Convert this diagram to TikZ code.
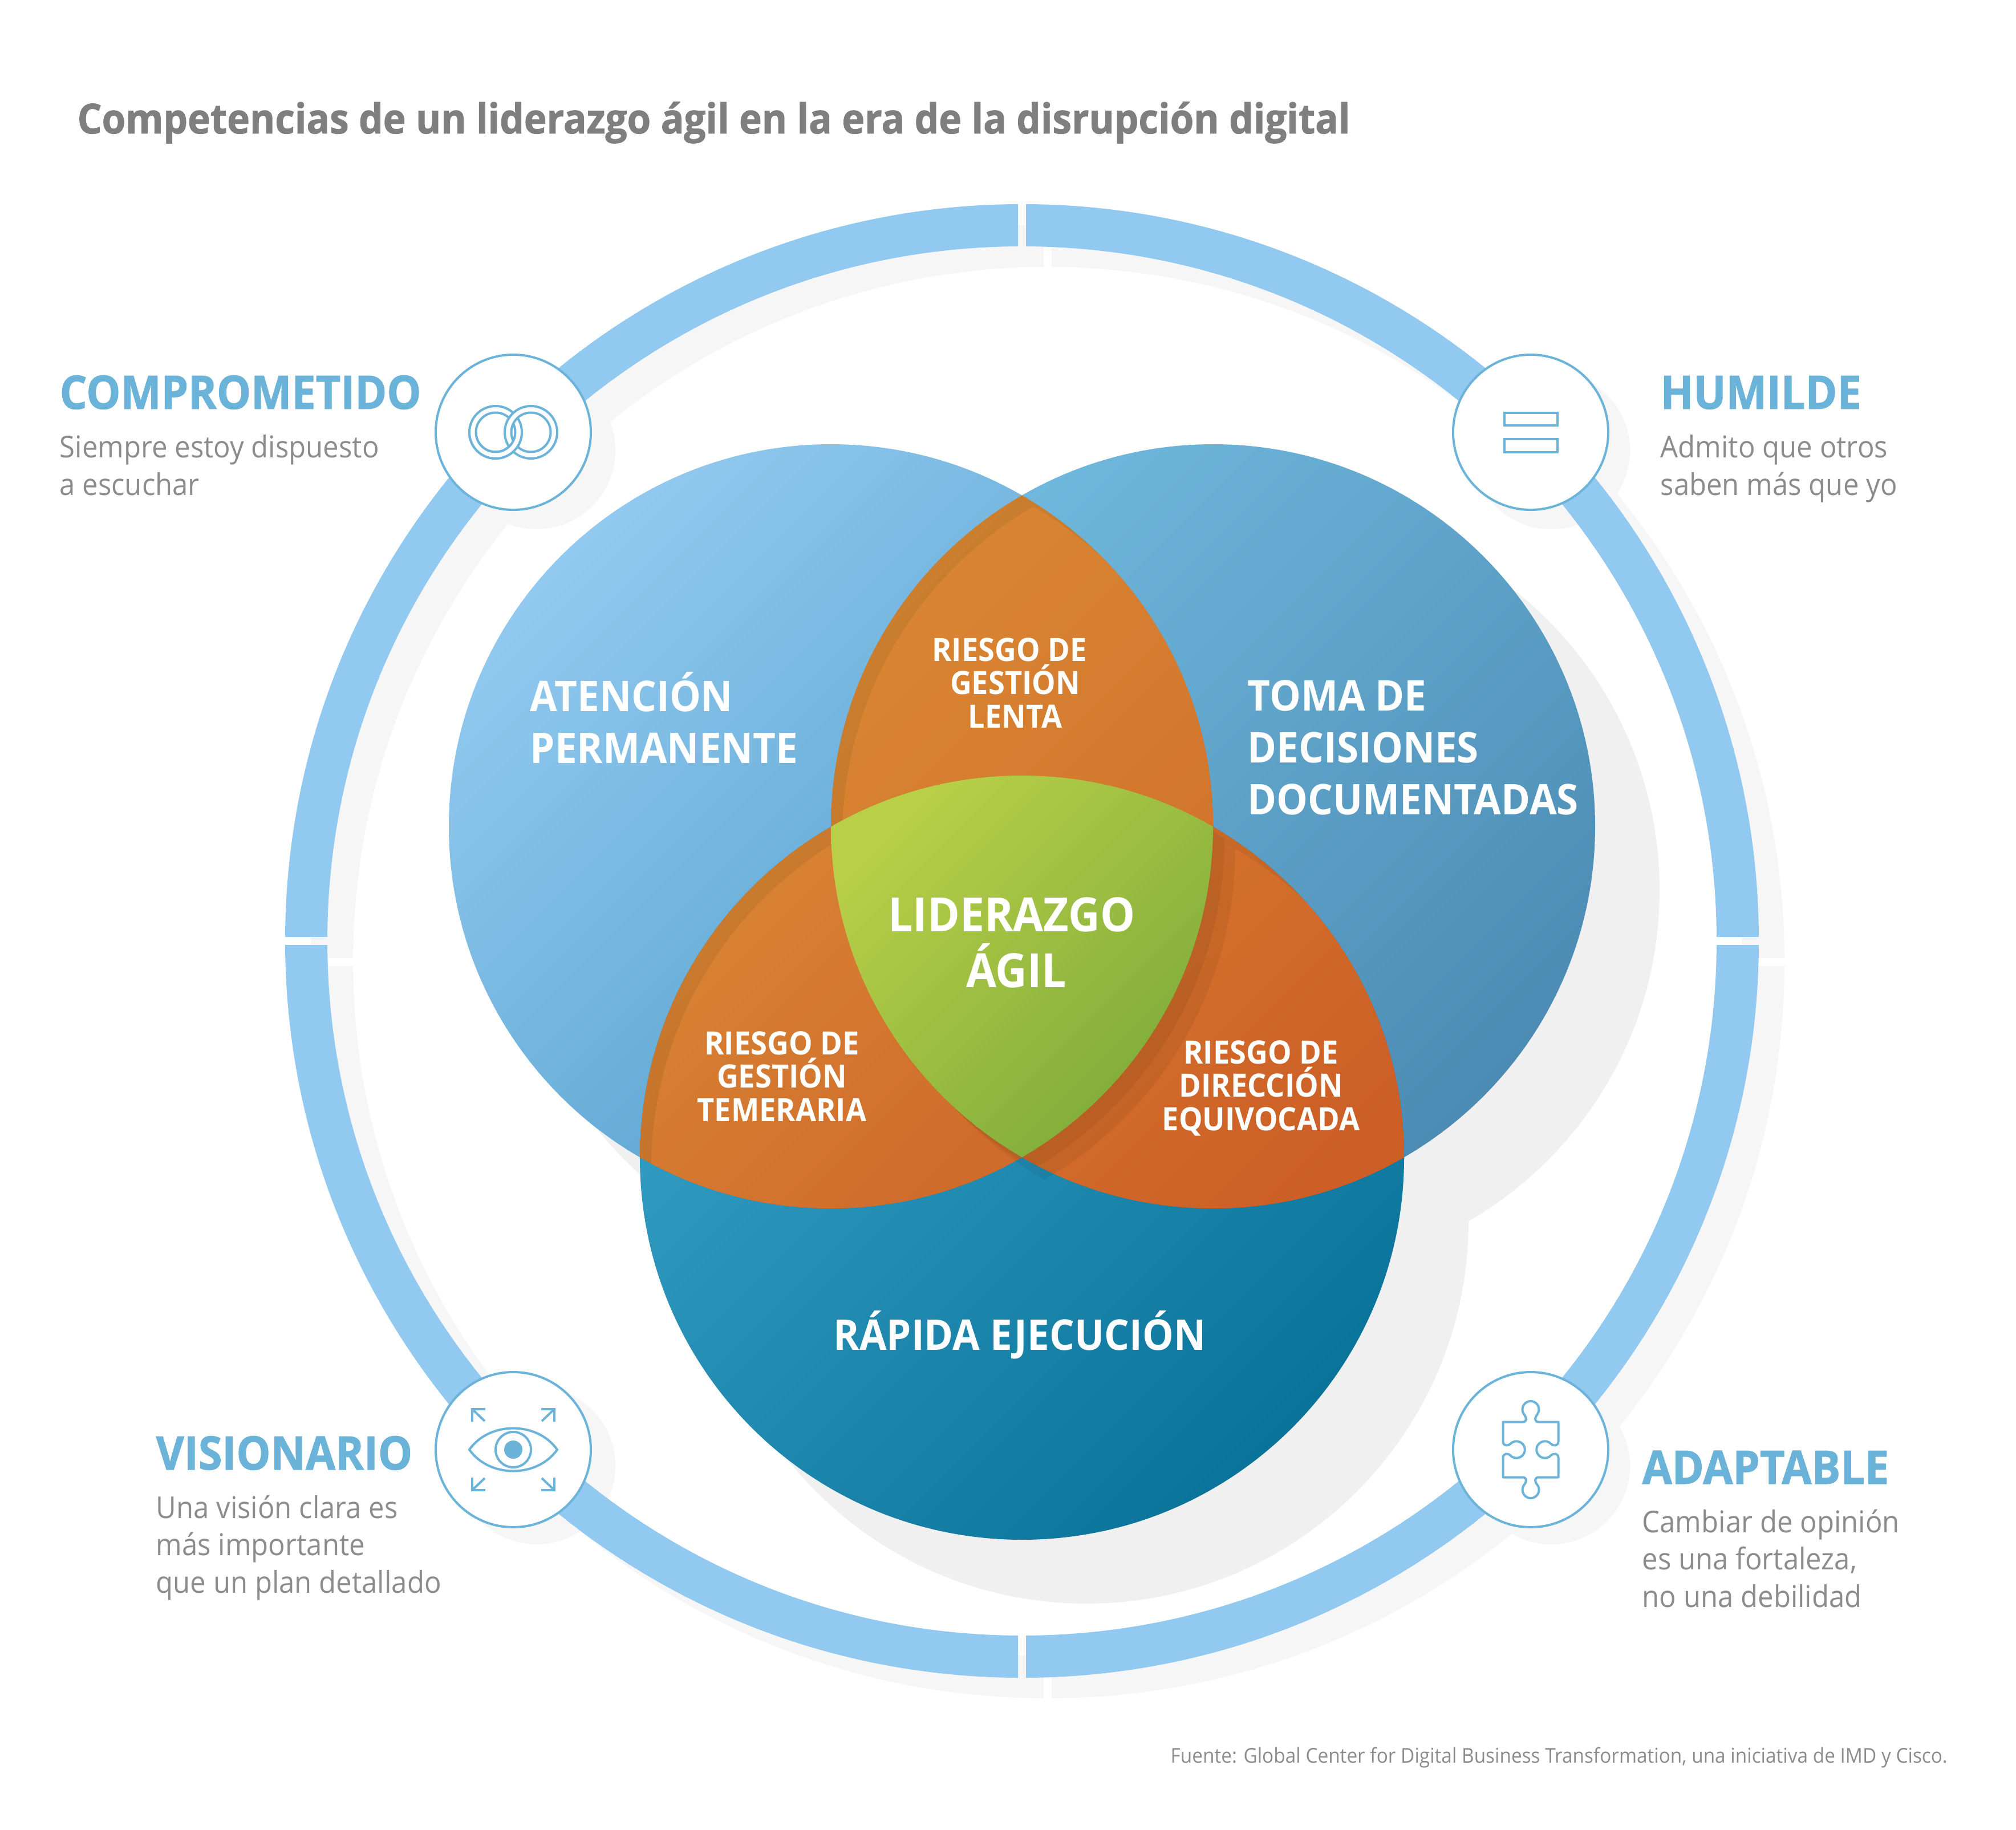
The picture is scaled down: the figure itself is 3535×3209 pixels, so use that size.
\documentclass[tikz,border=0pt]{standalone}
\usepackage{fontspec}
\setmainfont{Open Sans}[FakeStretch=0.93]
\newfontfamily\heavyfont{Open Sans}[FakeStretch=0.93,BoldFeatures={FakeBold=1.2}]
\definecolor{ringblue}{HTML}{92C9F0}
\definecolor{iconblue}{HTML}{6BB3D9}
\definecolor{softgray}{HTML}{F6F6F6}
\definecolor{dropgray}{HTML}{F0F0F0}
\definecolor{titlegray}{HTML}{7F7F7F}
\definecolor{bodygray}{HTML}{8C8C8C}
\definecolor{atop}{HTML}{92C9F0}\definecolor{abot}{HTML}{4A9AC6}
\definecolor{btop}{HTML}{70B8DD}\definecolor{bbot}{HTML}{4C8BB3}
\definecolor{ctop}{HTML}{36A0C6}\definecolor{cbot}{HTML}{0A7399}
\definecolor{abtop}{HTML}{D98633}\definecolor{abbot}{HTML}{CF702B}
\definecolor{abrimtop}{HTML}{CA7F2E}\definecolor{abrimbot}{HTML}{BF6827}
\definecolor{actop}{HTML}{D98533}\definecolor{acbot}{HTML}{CF6C2C}
\definecolor{acrimtop}{HTML}{CA7D2E}\definecolor{acrimbot}{HTML}{BF6528}
\definecolor{bctop}{HTML}{D5752D}\definecolor{bcbot}{HTML}{CC5E26}
\definecolor{bcrimtop}{HTML}{C86E2A}\definecolor{bcrimbot}{HTML}{BF5722}
\definecolor{coretop}{HTML}{B9CF48}\definecolor{corebot}{HTML}{7DAB3A}
\tikzset{
  ringstroke/.style={line width=0.74cm},
  iconline/.style={draw=iconblue,line width=0.04cm,miter limit=10},
  iconbadge/.style={iconline,fill=white},
  headlabel/.style={anchor=base west,inner sep=0pt,text=iconblue,font=\fontsize{23.1}{28}\selectfont\heavyfont\bfseries},
  bodylabel/.style={anchor=base west,inner sep=0pt,text=bodygray,align=left,font=\fontsize{15}{18.6}\selectfont},
  vennlabel/.style={anchor=base west,inner sep=0pt,text=white,align=left,font=\fontsize{21.1}{25.8}\selectfont\bfseries},
  risklabel/.style={anchor=base,inner sep=0pt,text=white,align=center,font=\fontsize{16}{16.6}\selectfont\bfseries},
  vennshade/.style={top color=#1top,bottom color=#1bot,shading angle=45},
}
\begin{document}
\begin{tikzpicture}[x=0.01cm,y=-0.01cm]
    \useasboundingbox (0,0) rectangle (3535,3209);
    \fill[white] (0,0) rectangle (3535,3209);
    \coordinate (hub) at (1792,1650);
    \coordinate (hubdrop) at (1837,1686);
    \foreach \n/\px/\py in {a/1457/1449,b/2127/1449,c/1792/2030}{
        \coordinate (c\n) at (\px,\py);
        \coordinate (c\n one) at (\px+20,\py+20);
        \coordinate (c\n two) at (\px+39,\py+39);
        \coordinate (c\n drop) at (\px+113,\py+112);
    }
    \coordinate (rings) at (900,758);
    \coordinate (bars) at (2684,758);
    \coordinate (eye) at (900,2542);
    \coordinate (puzzle) at (2684,2542);

    % ring shadow and ring
    \foreach \xa/\xb/\ya/\yb in {0/1830/0/1679,1844/3535/0/1679,0/1830/1694/3209,1844/3535/1694/3209}{
        \begin{scope}
            \clip (\xa,\ya) rectangle (\xb,\yb);
            \draw[softgray,ringstroke] (hubdrop) circle (1255);
        \end{scope}
    }
    \fill[softgray] ([shift={(41,32)}]rings) circle (138);
    \fill[softgray] ([shift={(36,32)}]bars) circle (138);
    \fill[softgray] ([shift={(41,28)}]eye) circle (138);
    \fill[softgray] ([shift={(36,28)}]puzzle) circle (138);
    \foreach \xa/\xb/\ya/\yb in {0/1785/0/1642,1799/3535/0/1642,0/1785/1657/3209,1799/3535/1657/3209}{
        \begin{scope}
            \clip (\xa,\ya) rectangle (\xb,\yb);
            \draw[ringblue,ringstroke] (hub) circle (1255);
        \end{scope}
    }

    % venn circles
    \foreach \n in {a,b,c} \fill[dropgray] (c\n drop) circle (670);
    \shade[vennshade=a] (ca) circle (670);
    \shade[vennshade=b] (cb) circle (670);
    \shade[vennshade=c] (cc) circle (670);
    \begin{scope}
        \clip (ca) circle (670);
        \clip (cb) circle (670);
        \shade[vennshade=abrim] (1457,869) rectangle (2127,2030);
        \clip (caone) circle (670);
        \clip (cbone) circle (670);
        \shade[vennshade=ab] (1457,869) rectangle (2127,2030);
    \end{scope}
    \begin{scope}
        \clip (ca) circle (670);
        \clip (cc) circle (670);
        \shade[vennshade=acrim] (1122,1449) rectangle (1792,2120);
        \clip (caone) circle (670);
        \clip (ccone) circle (670);
        \shade[vennshade=ac] (1122,1449) rectangle (1792,2120);
    \end{scope}
    \begin{scope}
        \clip (cb) circle (670);
        \clip (cc) circle (670);
        \shade[vennshade=bcrim] (1792,1449) rectangle (2462,2120);
        \clip (cbtwo) circle (670);
        \clip (cctwo) circle (670);
        \shade[vennshade=bc] (1792,1449) rectangle (2462,2120);
    \end{scope}
    \begin{scope}
        \clip (catwo) circle (670);
        \clip (cbtwo) circle (670);
        \clip (cctwo) circle (670);
        \fill[black,opacity=0.055] (1400,1300) rectangle (2300,2200);
    \end{scope}
    \begin{scope}
        \clip (cc) circle (670);
        \clip (caone) circle (670);
        \clip (cbone) circle (670);
        \clip (ccone) circle (670);
        \begin{scope}
            \clip (ca) circle (670);
            \fill[black,opacity=0.055] (1400,1300) rectangle (2300,2200);
        \end{scope}
        \begin{scope}
            \clip (cb) circle (670);
            \fill[black,opacity=0.055] (1400,1300) rectangle (2300,2200);
        \end{scope}
    \end{scope}
    \begin{scope}
        \clip (ca) circle (670);
        \clip (cb) circle (670);
        \clip (cc) circle (670);
        \shade[vennshade=core] (1457,1360) rectangle (2127,2030);
    \end{scope}

    % badges and icons
    \foreach \n in {rings,bars,eye,puzzle} \draw[iconbadge] (\n) circle (136);
    \begin{scope}[shift={(rings)}]
        \draw[iconline] (-31,0) circle (46) (-31,0) circle (34.5);
        \fill[white,even odd rule] (31,0) circle (46) (31,0) circle (34.5);
        \draw[iconline] (31,0) circle (46) (31,0) circle (34.5);
        \clip (-100,0) rectangle (100,100);
        \fill[white,even odd rule] (-31,0) circle (46) (-31,0) circle (34.5);
        \draw[iconline] (-31,0) circle (46) (-31,0) circle (34.5);
    \end{scope}
    \draw[iconline] ([shift={(-46,-34)}]bars) rectangle ([shift={(47,-12)}]bars);
    \draw[iconline] ([shift={(-46,12)}]bars) rectangle ([shift={(47,35)}]bars);
    \begin{scope}[shift={(eye)}]
        \draw[iconline] (-77,0) .. controls (-42,-50) and (42,-50) .. (77,0) .. controls (42,50) and (-42,50) .. cycle;
        \draw[iconline] (0,0) circle (31);
        \fill[iconblue] (0,0) circle (16);
        \foreach \sx/\sy in {1/1,-1/1,1/-1,-1/-1}{
            \draw[iconline,xscale=\sx,yscale=\sy] (-49,-71) -- (-72,-71) -- (-72,-49) (-72,-71) -- (-50,-50);
        }
    \end{scope}
    \begin{scope}[shift={(puzzle)},yscale=-1]
        \draw[iconline,line join=round] (-48.5,48.5) -- (-14,48.5) .. controls (-7,48.5) and (-6,55) .. (-12.2,62.6)
            arc (213:-33:14.5) .. controls (6,55) and (7,48.5) .. (14,48.5) -- (48.5,48.5) -- (48.5,14)
            .. controls (48.5,7) and (41,5.5) .. (35.7,10) arc (43:317:14.7)
            .. controls (41,-5.5) and (48.5,-7) .. (48.5,-14) -- (48.5,-48.5) -- (14,-48.5)
            .. controls (7,-48.5) and (6,-55) .. (12.2,-62.6) arc (33:-213:14.5)
            .. controls (-6,-55) and (-7,-48.5) .. (-14,-48.5) -- (-48.5,-48.5) -- (-48.5,-14)
            .. controls (-48.5,-7) and (-41,-5.5) .. (-35.7,-10) arc (223:497:14.7)
            .. controls (-41,5.5) and (-48.5,7) .. (-48.5,14) -- cycle;
    \end{scope}

    % texts
    \node[anchor=base west,inner sep=0pt,text=titlegray,font=\fontsize{20.6}{26}\selectfont\heavyfont\bfseries] (title) at (135,234) {Competencias de un liderazgo ágil en la era de la disrupción digital};
    \node[headlabel] (comprometido) at (104,717) {COMPROMETIDO};
    \node[bodylabel] (comprometidotxt) at (104,868) {Siempre estoy dispuesto\\a escuchar};
    \node[headlabel] (humilde) at (2911,717) {HUMILDE};
    \node[bodylabel] (humildetxt) at (2911,868) {Admito que otros\\saben más que yo};
    \node[headlabel] (visionario) at (273,2577) {VISIONARIO};
    \node[bodylabel] (visionariotxt) at (273,2793) {Una visión clara es\\más importante\\que un plan detallado};
    \node[headlabel] (adaptable) at (2879,2602) {ADAPTABLE};
    \node[bodylabel] (adaptabletxt) at (2879,2818) {Cambiar de opinión\\es una fortaleza,\\no una debilidad};
    \node[vennlabel] (atencion) at (929,1338) {ATENCIÓN\\PERMANENTE};
    \node[vennlabel] (decisiones) at (2187,1428) {TOMA DE\\DECISIONES\\DOCUMENTADAS};
    \node[vennlabel,anchor=base] (ejecucion) at (1788,2367) {RÁPIDA EJECUCIÓN};
    \node[risklabel] (lenta) at (1770,1276) {RIESGO DE\\\hspace*{0.2cm}GESTIÓN\\\hspace*{0.2cm}LENTA};
    \node[risklabel] (temeraria) at (1371,1966) {RIESGO DE\\GESTIÓN\\TEMERARIA};
    \node[risklabel] (equivocada) at (2211,1982) {RIESGO DE\\DIRECCIÓN\\EQUIVOCADA};
    \node[anchor=base,inner sep=0pt,text=white,align=center,font=\fontsize{23.5}{27.6}\selectfont\bfseries] (agil) at (1774,1731) {LIDERAZGO\\\hspace*{0.16cm}ÁGIL};
    \node[anchor=base west,inner sep=0pt,text=bodygray,font=\fontsize{10.2}{12}\selectfont] (fuente) at (2052,3091) {Fuente: Global Center for Digital Business Transformation, una iniciativa de IMD y Cisco.};
\end{tikzpicture}
\end{document}
